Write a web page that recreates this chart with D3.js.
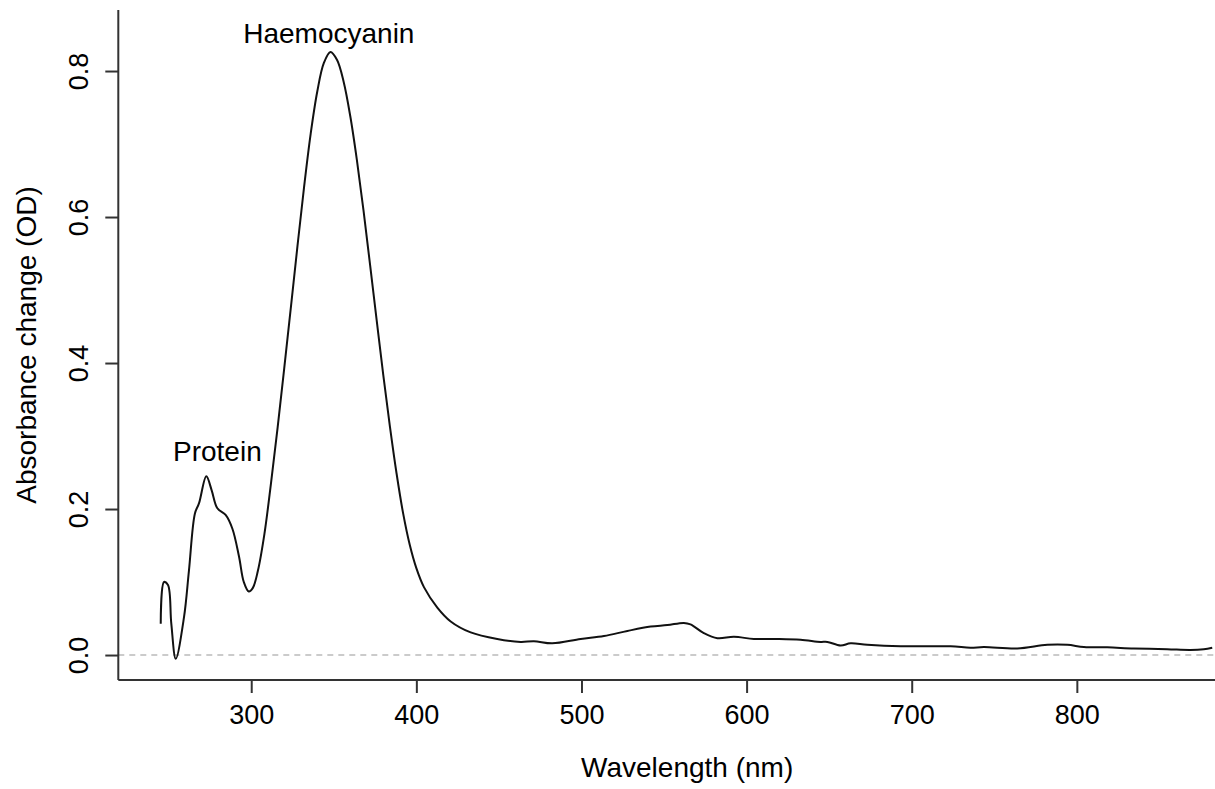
<!DOCTYPE html>
<html>
<head>
<meta charset="utf-8">
<script src="https://d3js.org/d3.v7.min.js"></script>
<style>
body { margin: 0; background: #fff; }
svg { font-family: "Liberation Sans", Arial, Helvetica, sans-serif; display: block; }
.axis path, .axis line { stroke: #333; stroke-width: 2; }
.axis text { font-size: 27px; fill: #000; }
</style>
</head>
<body>
<svg width="1215" height="789"></svg>
<script>
// spectrum
var wavelength = [245.2, 247.2, 249.6, 251.6, 254.3, 259.3, 262.3, 265.9, 268.4, 272.8,
    276.0, 279.5, 284.5, 288.6, 292.6, 295.5, 298.5, 301.0, 304.0, 308.0,
    312.0, 316.0, 320.0, 324.0, 328.0, 332.0, 336.0, 340.0, 344.0, 348.0,
    352.0, 356.0, 360.0, 364.0, 368.0, 372.0, 376.0, 380.0, 384.0, 388.0,
    392.0, 396.0, 400.0, 404.6, 412.7, 420.8, 432.9, 449.0, 463.2, 471.2,
    482.3, 499.5, 513.6, 527.8, 541.9, 552.0, 562.0, 566.0, 574.1, 582.3,
    592.3, 604.4, 618.6, 632.7, 644.8, 648.9, 656.9, 663.0, 673.1, 693.3,
    723.6, 735.6, 743.7, 763.9, 782.1, 794.2, 804.3, 818.4, 834.5, 854.7,
    868.8, 876.9, 882.0];
var absorbance = [0.043, 0.100, 0.096, 0.043, -0.005, 0.052, 0.116, 0.194, 0.208, 0.245,
    0.226, 0.201, 0.192, 0.173, 0.135, 0.100, 0.087, 0.092, 0.115, 0.166,
    0.236, 0.312, 0.393, 0.476, 0.560, 0.641, 0.714, 0.772, 0.811, 0.826,
    0.815, 0.785, 0.738, 0.678, 0.609, 0.534, 0.458, 0.383, 0.313, 0.249,
    0.194, 0.151, 0.119, 0.093, 0.065, 0.046, 0.031, 0.022, 0.018, 0.019,
    0.016, 0.022, 0.026, 0.033, 0.039, 0.041, 0.044, 0.042, 0.030, 0.023,
    0.025, 0.022, 0.022, 0.021, 0.018, 0.018, 0.013, 0.016, 0.014, 0.012,
    0.012, 0.010, 0.011, 0.009, 0.014, 0.014, 0.011, 0.0105, 0.009, 0.008,
    0.007, 0.008, 0.010];
var xTicks = [300, 400, 500, 600, 700, 800];
var yTicks = [0.0, 0.2, 0.4, 0.6, 0.8];
var peakLabels = ["Protein", "Haemocyanin"];
var peakPos = [[279.5, 0.266], [347, 0.839]];

var svg = d3.select("svg");

const plotLeft = 118.3, plotRight = 1256, plotTop = 10, plotBottom = 680;

const x = d3.scaleLinear().domain([219.5, 908.5]).range([plotLeft, plotRight]);
const y = d3.scaleLinear().domain([-0.0342, 0.8836]).range([plotBottom, plotTop]);

// dashed zero line
svg.append("line")
    .attr("x1", plotLeft).attr("x2", plotRight)
    .attr("y1", y(0)).attr("y2", y(0))
    .attr("stroke", "#bbb")
    .attr("stroke-width", 1.5)
    .attr("stroke-dasharray", "6,5");

// x axis
var xAxis = svg.append("g")
    .attr("class", "axis")
    .attr("transform", "translate(0," + plotBottom + ")")
    .call(d3.axisBottom(x).tickValues(xTicks).tickSize(13).tickSizeOuter(0).tickPadding(12)
        .tickFormat(d3.format("d")));
xAxis.select(".domain").attr("d", "M" + plotLeft + ",0H" + plotRight);

// y axis, labels turned like R's default
var yAxis = svg.append("g")
    .attr("class", "axis")
    .attr("transform", "translate(" + plotLeft + ",0)")
    .call(d3.axisLeft(y).tickValues(yTicks).tickSize(13).tickSizeOuter(0)
        .tickFormat(d3.format(".1f")));
yAxis.selectAll(".tick text")
    .attr("transform", "rotate(-90)")
    .attr("x", 0).attr("y", -30).attr("dy", 0)
    .attr("text-anchor", "middle");
yAxis.select(".domain").attr("d", "M0," + plotTop + "V" + plotBottom);

// axis titles
svg.append("text")
    .attr("x", (plotLeft + plotRight) / 2).attr("y", 777)
    .attr("text-anchor", "middle")
    .style("font-size", "28px")
    .text("Wavelength (nm)");

svg.append("text")
    .attr("transform", "translate(36," + ((plotTop + plotBottom) / 2) + ") rotate(-90)")
    .attr("text-anchor", "middle")
    .style("font-size", "28px")
    .text("Absorbance change (OD)");

// spectrum
var pts = wavelength.map(function(w, i) { return [w, absorbance[i]]; });
var line = d3.line()
    .x(function(d) { return x(d[0]); })
    .y(function(d) { return y(d[1]); })
    .curve(d3.curveCatmullRom.alpha(0.5));

svg.append("path")
    .datum(pts)
    .attr("d", line)
    .attr("fill", "none")
    .attr("stroke", "#111")
    .attr("stroke-width", 2);

// peak names
svg.selectAll(".peak")
    .data(peakLabels)
    .enter()
    .append("text")
    .attr("class", "peak")
    .attr("x", function(d, i) { return x(peakPos[i][0]); })
    .attr("y", function(d, i) { return y(peakPos[i][1]); })
    .attr("text-anchor", "middle")
    .style("font-size", "28px")
    .text(function(d) { return d; });
</script>
</body>
</html>
